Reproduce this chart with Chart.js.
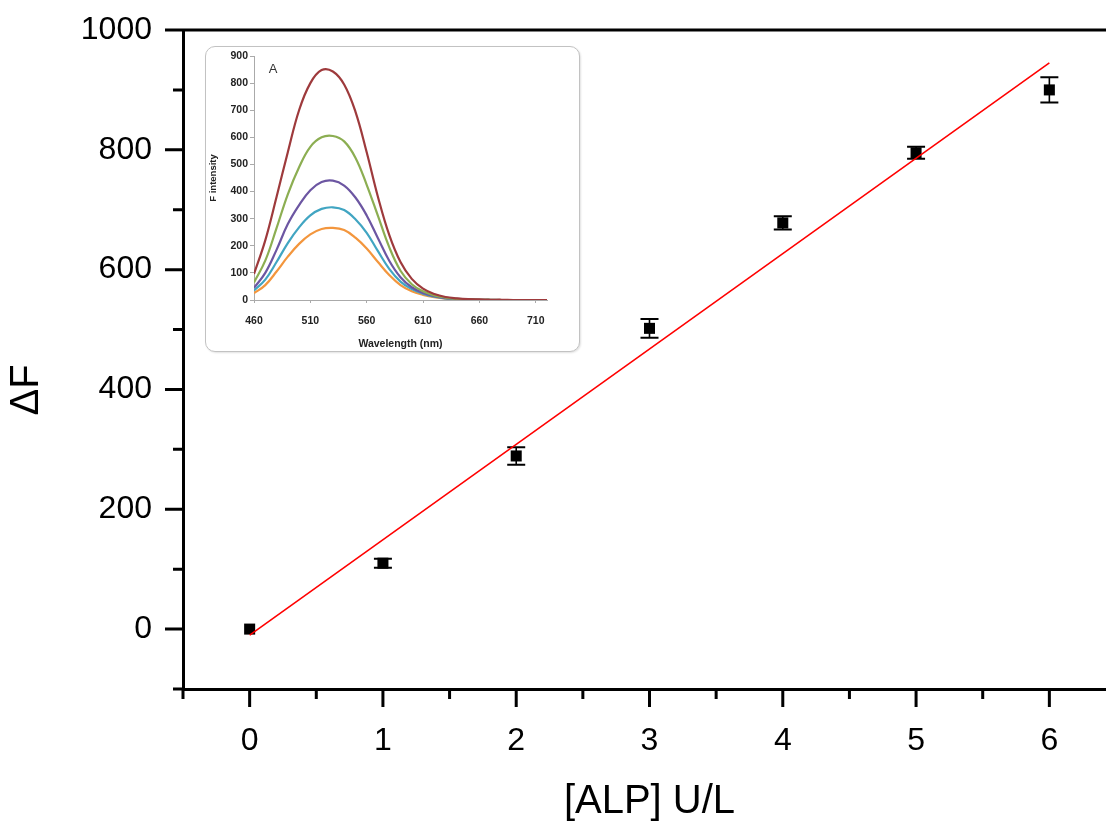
<!DOCTYPE html>
<html><head><meta charset="utf-8">
<script src="https://cdn.jsdelivr.net/npm/chart.js@4.4.0/dist/chart.umd.min.js"></script>
<style>
html,body{margin:0;padding:0;background:#fff;overflow:hidden;width:1106px;height:822px;}
#main{position:absolute;left:0;top:0;}
#insetBox{position:absolute;left:205px;top:46px;width:373px;height:304px;border:1px solid #c2c2c2;border-radius:10px;background:#fff;box-shadow:1px 1px 2px rgba(0,0,0,0.12);}
#inset{position:absolute;left:0;top:0;}
</style></head><body>
<canvas id="main" width="1140" height="822"></canvas>
<div id="insetBox"><canvas id="inset" width="373" height="304"></canvas></div>
<script>
// ---------- main chart data ----------
const alpConc = [0, 1, 2, 3, 4, 5, 6];
const deltaF = [0, 110, 289, 502, 678, 795, 900];
const deltaFErr = [0, 7.5, 14.5, 15.5, 11, 10, 21];
const fitX = [0, 6];
const fitY = [-10, 945];
const xMajorTicks = [0, 1, 2, 3, 4, 5, 6];
const xMinorTicks = [-0.5, 0.5, 1.5, 2.5, 3.5, 4.5, 5.5];
const yMajorTicks = [0, 200, 400, 600, 800, 1000];
const yMinorTicks = [-100, 100, 300, 500, 700, 900];
const yTitle = 'ΔF';

// ---------- inset data ----------
const wavelength = [460,470,480,490,500,510,520,530,540,550,560,570,580,590,600,610,620,630,640,650,660,670,680,690,700,710,720];
const specRed    = [96,220,380,545,700,800,848,843,795,695,545,380,240,140,78,42,22,11,6,3,2,1,1,0,0,0,0];
const specGreen  = [65,145,265,390,490,565,600,605,585,525,425,310,195,108,58,32,17,9,4,2,1,1,0,0,0,0,0];
const specPurple = [45,100,185,280,350,405,435,440,422,378,312,228,145,84,47,26,14,7,4,2,1,1,0,0,0,0,0];
const specCyan   = [35,75,140,210,268,312,336,342,332,298,248,180,115,68,40,23,12,6,3,2,1,0,0,0,0,0,0];
const specOrange = [25,55,105,160,207,242,262,266,258,230,190,140,92,55,32,19,10,5,3,2,1,0,0,0,0,0,0];
const insetXTicks = [460, 510, 560, 610, 660, 710];
const insetYTicks = [0, 100, 200, 300, 400, 500, 600, 700, 800, 900];

const FONT = "'Liberation Sans', Arial, Helvetica, sans-serif";

const mainDecor = {
  id: 'mainDecor',
  beforeDatasetsDraw(chart) {
    const ctx = chart.ctx, xs = chart.scales.x, ys = chart.scales.y;
    ctx.save();
    ctx.strokeStyle = '#000';
    alpConc.forEach((xv, i) => {
      if (!deltaFErr[i]) return;
      const px = xs.getPixelForValue(xv);
      const yTop = ys.getPixelForValue(deltaF[i] + deltaFErr[i]);
      const yBot = ys.getPixelForValue(deltaF[i] - deltaFErr[i]);
      ctx.lineWidth = 1.6;
      ctx.beginPath(); ctx.moveTo(px, yTop); ctx.lineTo(px, yBot); ctx.stroke();
      ctx.lineWidth = 2;
      ctx.beginPath();
      ctx.moveTo(px - 9, yTop); ctx.lineTo(px + 9, yTop);
      ctx.moveTo(px - 9, yBot); ctx.lineTo(px + 9, yBot);
      ctx.stroke();
    });
    ctx.restore();
  },
  afterDraw(chart) {
    const ctx = chart.ctx, xs = chart.scales.x, ys = chart.scales.y, a = chart.chartArea;
    ctx.save();
    ctx.strokeStyle = '#000';
    ctx.lineWidth = 3;
    ctx.beginPath();
    ctx.moveTo(a.left - 1.5, a.top); ctx.lineTo(a.right + 1.5, a.top);
    xMajorTicks.forEach(v => { const p = xs.getPixelForValue(v); ctx.moveTo(p, a.bottom); ctx.lineTo(p, a.bottom + 18); });
    xMinorTicks.forEach(v => { const p = xs.getPixelForValue(v); ctx.moveTo(p, a.bottom); ctx.lineTo(p, a.bottom + 10); });
    yMajorTicks.forEach(v => { const p = ys.getPixelForValue(v); ctx.moveTo(a.left, p); ctx.lineTo(a.left - 18, p); });
    yMinorTicks.forEach(v => { const p = ys.getPixelForValue(v); ctx.moveTo(a.left, p); ctx.lineTo(a.left - 10, p); });
    ctx.stroke();
    // y-axis title (centred slightly below the plot centre, as in the original)
    ctx.translate(27, 390);
    ctx.rotate(-Math.PI / 2);
    ctx.fillStyle = '#000';
    ctx.font = '40px ' + FONT;
    ctx.textAlign = 'center';
    ctx.textBaseline = 'middle';
    ctx.fillText(yTitle, 0, 0);
    ctx.restore();
  }
};

new Chart(document.getElementById('main'), {
  type: 'scatter',
  data: {
    datasets: [
      {
        label: 'fit',
        data: fitX.map((x, i) => ({x: x, y: fitY[i]})),
        showLine: true,
        borderColor: '#ff0000',
        borderWidth: 1.6,
        pointRadius: 0,
        tension: 0
      },
      {
        label: 'ΔF',
        data: alpConc.map((x, i) => ({x: x, y: deltaF[i]})),
        pointStyle: 'rect',
        pointRadius: 7.8,
        backgroundColor: '#000',
        borderWidth: 0
      }
    ]
  },
  options: {
    responsive: false,
    animation: false,
    layout: {padding: {left: 0, right: 24, top: 30, bottom: 0}},
    plugins: {legend: {display: false}, tooltip: {enabled: false}},
    scales: {
      x: {
        type: 'linear', min: -0.5, max: 6.5,
        afterBuildTicks: ax => { ax.ticks = xMajorTicks.map(v => ({value: v})); },
        afterFit: ax => { ax.height = 133; ax.paddingLeft = 0; ax.paddingRight = 0; },
        grid: {display: false, drawTicks: false},
        border: {display: true, color: '#000', width: 3},
        ticks: {color: '#000', font: {family: FONT, size: 32}, padding: 33, maxRotation: 0, autoSkip: false, callback: v => String(v)},
        title: {display: true, text: '[ALP] U/L', color: '#000', font: {family: FONT, size: 40, lineHeight: 1}, padding: {top: 0, bottom: 0}}
      },
      y: {
        type: 'linear', min: -100, max: 1000,
        afterBuildTicks: ax => { ax.ticks = yMajorTicks.map(v => ({value: v})); },
        afterFit: ax => { ax.width = 183; ax.paddingTop = 0; ax.paddingBottom = 0; },
        grid: {display: false, drawTicks: false},
        border: {display: true, color: '#000', width: 3},
        ticks: {color: '#000', font: {family: FONT, size: 32}, padding: 31, autoSkip: false, callback: v => String(v)},
        title: {display: false}
      }
    }
  },
  plugins: [mainDecor]
});

// ---------- inset ----------
const insetLabel = {
  id: 'insetLabel',
  afterDraw(chart) {
    const ctx = chart.ctx;
    ctx.save();
    ctx.fillStyle = '#333';
    ctx.font = "13px " + FONT;
    ctx.textAlign = 'center';
    ctx.textBaseline = 'middle';
    ctx.fillText('A', 67, 22);
    ctx.restore();
  }
};
const mk = (lbl, arr, col) => ({
  label: lbl,
  data: wavelength.map((w, i) => ({x: w, y: arr[i]})),
  showLine: true, borderColor: col, borderWidth: 2.2, pointRadius: 0, tension: 0.4, fill: false
});
const IFONT = {family: FONT, size: 10.5, weight: 'bold'};
new Chart(document.getElementById('inset'), {
  type: 'scatter',
  data: {
    datasets: [
      mk('s1', specRed, '#9e3a3c'),
      mk('s2', specGreen, '#8cae52'),
      mk('s3', specPurple, '#6c56a2'),
      mk('s4', specCyan, '#41a5c2'),
      mk('s5', specOrange, '#f3963d')
    ]
  },
  options: {
    responsive: false,
    animation: false,
    layout: {padding: {left: 0, right: 32, top: 9, bottom: 0}},
    plugins: {legend: {display: false}, tooltip: {enabled: false}},
    scales: {
      x: {
        type: 'linear', min: 460, max: 720,
        afterBuildTicks: ax => { ax.ticks = insetXTicks.map(v => ({value: v})); },
        afterFit: ax => { ax.height = 51; ax.paddingLeft = 0; ax.paddingRight = 0; },
        grid: {display: true, drawOnChartArea: false, drawTicks: true, tickLength: 3, color: '#aaa'},
        border: {display: true, color: '#aaa', width: 1},
        ticks: {color: '#222', font: IFONT, padding: 12, maxRotation: 0, autoSkip: false, callback: v => String(v)},
        title: {display: true, text: 'Wavelength (nm)', color: '#222', font: {family: FONT, size: 10.5, weight: 'bold', lineHeight: 1}, padding: {top: 0, bottom: 2}}
      },
      y: {
        type: 'linear', min: 0, max: 900,
        afterBuildTicks: ax => { ax.ticks = insetYTicks.map(v => ({value: v})); },
        afterFit: ax => { ax.width = 48; ax.paddingTop = 0; ax.paddingBottom = 0; },
        grid: {display: true, drawOnChartArea: false, drawTicks: true, tickLength: 4, color: '#aaa'},
        border: {display: true, color: '#aaa', width: 1},
        ticks: {color: '#222', font: IFONT, padding: 2, autoSkip: false, callback: v => String(v)},
        title: {display: true, text: 'F intensity', color: '#222', font: {family: FONT, size: 9.5, weight: 'bold', lineHeight: 1}, padding: {top: 3, bottom: 3}}
      }
    }
  },
  plugins: [insetLabel]
});
</script></body></html>
